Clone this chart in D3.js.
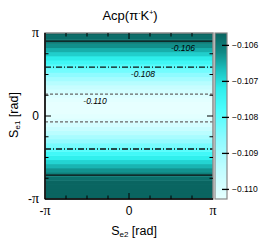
<!DOCTYPE html>
<html>
<head>
<meta charset="utf-8">
<script src="https://cdn.jsdelivr.net/npm/d3@7"></script>
<style>
  body { margin: 0; background: #fff; }
  text { font-family: "Liberation Sans", Arial, sans-serif; fill: #000; }
  .pi { font-family: "Liberation Serif", "DejaVu Serif", serif; }
</style>
</head>
<body>
<svg width="261" height="245"></svg>
<script>
// Se1 sample points (rad), from -pi to pi in pi/20 steps
const se1 = d3.range(41).map(k => -Math.PI + k * Math.PI / 20);
// Acp value along Se1 (does not depend on Se2)
const acp = [
    -0.10568, -0.10560, -0.10558, -0.10561, -0.10570, -0.10585, -0.10605, -0.10629,
    -0.10658, -0.10690, -0.10725, -0.10761, -0.10798, -0.10835, -0.10872, -0.10906,
    -0.10937, -0.10965, -0.10989, -0.11008, -0.11022, -0.11030, -0.11032, -0.11029,
    -0.11020, -0.11005, -0.10985, -0.10961, -0.10932, -0.10900, -0.10865, -0.10829,
    -0.10792, -0.10755, -0.10719, -0.10684, -0.10653, -0.10625, -0.10601, -0.10582,
    -0.10568
];
// contour levels and their label spots (Se2, rad)
const levels = [-0.106, -0.108, -0.110];
const levelLabels = ["-0.106", "-0.108", "-0.110"];
const labelSe2 = [2.02, 0.52, -1.27];
const levelDash = [null, "6,2,1,2", "3,2"];
const levelColor = ["#111", "#111", "#666"];
// colour bar ticks
const zTicks = [-0.106, -0.107, -0.108, -0.109, -0.110];
const zRange = [-0.11028, -0.10567];
const PI = Math.PI;

const svg = d3.select("svg");
const plotL = 45, plotR = 213, plotT = 33, plotB = 199;

const x = d3.scaleLinear([-PI, PI], [plotL, plotR]);
const y = d3.scaleLinear([-PI, PI], [plotB, plotT]);
const z = d3.scaleLinear(zRange, [plotB, plotT]);
const color = d3.scaleLinear()
    .domain([-0.1103, -0.1095, -0.1086, -0.1078, -0.1072, -0.1067, -0.1062, -0.1057])
    .range(["#e6ffff", "#c2fdff", "#8cfbff", "#4cfdfd", "#2eeeec", "#1cc2c0", "#108985", "#0a6561"])
    .clamp(true);

// heat map rows
const half = PI / 40;
svg.append("g").selectAll("rect")
    .data(se1.map((s, i) => ({ s, v: acp[i] })))
    .join("rect")
    .attr("x", plotL)
    .attr("width", plotR - plotL)
    .attr("y", d => y(Math.min(PI, d.s + half)))
    .attr("height", d => y(Math.max(-PI, d.s - half)) - y(Math.min(PI, d.s + half)) + 0.5)
    .attr("fill", d => color(d.v));

// contour crossings along Se1
const contours = [];
levels.forEach((lv, li) => {
    for (let i = 0; i < acp.length - 1; i++) {
        const a = acp[i], b = acp[i + 1];
        if ((a - lv) * (b - lv) < 0) {
            const t = (lv - a) / (b - a);
            contours.push({ li, s: se1[i] + t * (se1[i + 1] - se1[i]) });
        }
    }
});
svg.append("g").selectAll("line")
    .data(contours)
    .join("line")
    .attr("x1", plotL).attr("x2", plotR)
    .attr("y1", d => y(d.s)).attr("y2", d => y(d.s))
    .attr("stroke", d => levelColor[d.li])
    .attr("stroke-width", 1.3)
    .attr("stroke-dasharray", d => levelDash[d.li]);

// label under the upper line of each level
levels.forEach((lv, li) => {
    const upper = d3.max(contours.filter(c => c.li === li), c => c.s);
    svg.append("text")
        .attr("x", x(labelSe2[li]))
        .attr("y", y(upper) + 10)
        .attr("text-anchor", "middle")
        .attr("font-size", 8.5)
        .attr("font-style", "italic")
        .text(levelLabels[li]);
});

// frame
svg.append("rect")
    .attr("x", plotL).attr("y", plotT)
    .attr("width", plotR - plotL).attr("height", plotB - plotT)
    .attr("fill", "none").attr("stroke", "#888").attr("stroke-width", 1.5);

// ticks on all four sides
const minor = d3.range(-4, 5).map(k => k * PI / 4);
const major = [-PI, 0, PI];
const tickG = svg.append("g").attr("stroke", "#000").attr("stroke-width", 1);
minor.forEach(v => {
    if (v === -PI || v === PI) return;
    const len = v === 0 ? 6 : 3.5;
    tickG.append("line").attr("x1", plotL).attr("x2", plotL + len).attr("y1", y(v)).attr("y2", y(v));
    tickG.append("line").attr("x1", plotR).attr("x2", plotR - len).attr("y1", y(v)).attr("y2", y(v));
    tickG.append("line").attr("y1", plotB).attr("y2", plotB - len).attr("x1", x(v)).attr("x2", x(v));
    tickG.append("line").attr("y1", plotT).attr("y2", plotT + len).attr("x1", x(v)).attr("x2", x(v));
});
// axes lines
tickG.append("line").attr("x1", plotL).attr("x2", plotL).attr("y1", plotT).attr("y2", plotB).attr("stroke-width", 1.5);
tickG.append("line").attr("x1", plotL).attr("x2", plotR).attr("y1", plotB).attr("y2", plotB).attr("stroke-width", 1.5);

// tick labels
const piLabel = (g, v) => {
    if (v === 0) { g.text("0"); return; }
    if (v < 0) g.append("tspan").text("-");
    g.append("tspan").attr("class", "pi").attr("font-size", 14).text("π");
};
major.forEach(v => {
    const ty = svg.append("text")
        .attr("x", 39).attr("y", y(v) + 4)
        .attr("text-anchor", "end").attr("font-size", 12);
    piLabel(ty, v);
    const tx = svg.append("text")
        .attr("x", x(v)).attr("y", 215)
        .attr("text-anchor", "middle").attr("font-size", 12);
    piLabel(tx, v);
});

// axis titles
const xt = svg.append("text").attr("x", 134).attr("y", 235)
    .attr("text-anchor", "middle").attr("font-size", 12.5);
xt.append("tspan").text("S");
xt.append("tspan").attr("font-size", 8).attr("dy", 2).text("e2");
xt.append("tspan").attr("dy", -2).text(" [rad]");

const yt = svg.append("text").attr("transform", "translate(18,115) rotate(-90)")
    .attr("text-anchor", "middle").attr("font-size", 12.5);
yt.append("tspan").text("S");
yt.append("tspan").attr("font-size", 8).attr("dy", 2).text("e1");
yt.append("tspan").attr("dy", -2).text(" [rad]");

// title
const tt = svg.append("text").attr("x", 130).attr("y", 20)
    .attr("text-anchor", "middle").attr("font-size", 13);
tt.append("tspan").text("Acp(π");
tt.append("tspan").attr("font-size", 7).attr("dy", -5).text("-");
tt.append("tspan").attr("dy", 5).text("K");
tt.append("tspan").attr("font-size", 7).attr("dy", -5).text("+");
tt.append("tspan").attr("dy", 5).text(")");

// colour bar
const cbX = 215, cbW = 12;
const steps = d3.range(0, plotB - plotT);
svg.append("g").selectAll("rect")
    .data(steps)
    .join("rect")
    .attr("x", cbX).attr("width", cbW)
    .attr("y", d => plotT + d).attr("height", 1.2)
    .attr("fill", d => color(z.invert(plotT + d + 0.5)));
svg.append("rect")
    .attr("x", cbX).attr("y", plotT).attr("width", cbW).attr("height", plotB - plotT)
    .attr("fill", "none").attr("stroke", "#888").attr("stroke-width", 1.2);
const cb = svg.append("g").attr("transform", `translate(${cbX + cbW + 2},0)`)
    .call(d3.axisRight(z).tickValues(zTicks).tickSize(-7).tickPadding(3).tickFormat(d3.format(".3f")));
cb.select(".domain").remove();
cb.selectAll(".tick line").attr("stroke", "#000").attr("stroke-width", 1.3);
cb.selectAll(".tick text").attr("font-size", 8.5).attr("font-family", "Liberation Sans, Arial, sans-serif");
</script>
</body>
</html>
